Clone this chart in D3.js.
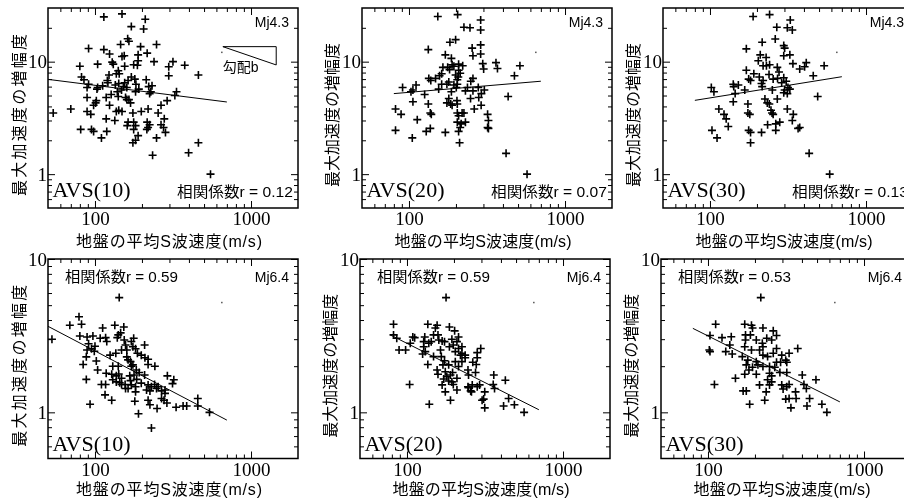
<!DOCTYPE html>
<html>
<head>
<meta charset="utf-8">
<script src="https://cdn.jsdelivr.net/npm/d3@7"></script>
<style>
  body { margin: 0; background: #fff; }
  svg { display: block; will-change: transform; }
  text { fill: #000; }
</style>
</head>
<body>
<svg id="chart" width="904" height="499"></svg>
<script>
// ---- axes ----
const xDomain = [50, 2000];
const xMajorTicks = [100, 1000];
const xMinorTicks = [60, 70, 80, 90, 200, 300, 400, 500, 600, 700, 800, 900];
const yDomainMj43 = [0.5, 30];
const yDomainMj64 = [0.5, 10];
const yMajorTicks = [1, 10];
const yMinorTicksMj43 = [0.6, 0.7, 0.8, 0.9, 2, 3, 4, 5, 6, 7, 8, 9, 20];
const yMinorTicksMj64 = [0.6, 0.7, 0.8, 0.9, 2, 3, 4, 5, 6, 7, 8, 9];

// ---- labels ----
const avsLabels = ["AVS(10)", "AVS(20)", "AVS(30)"];
const quakeLabels = ["Mj4.3", "Mj6.4"];
const corrMj43 = ["0.12", "0.07", "0.13"];
const corrMj64 = ["0.59", "0.59", "0.53"];
const corrPrefix = "相関係数r = ";
const xTitle = "地盤の平均S波速度(m/s)";
const yTitle = "最大加速度の増幅度";
const slopeLabel = "勾配b";

// ---- observations: [average S-wave velocity (m/s), PGA amplification] ----
const mj43Avs10 = [[114,25],[149,26.6],[210,23.8],[171,20.5],[205,19.5],[162,16],[165,15.2],[146,14.2],[196,13.6],[248,14.2],[91,13.1],[114,12.8],[124,11.7],[149,11.1],[154,11.3],[189,11.5],[216,11.9],[129,9.9],[131,9.5],[104,9.5],[80,9.1],[155,9.1],[177,9.4],[187,9.3],[189,10.2],[239,10],[297,9.0],[316,10],[376,9.3],[460,7.6],[297,7.5],[141,8.3],[143,7.8],[137,7.8],[123,7.6],[120,6.8],[82,7.3],[85,6.9],[91,6.3],[89,5.9],[103,5.7],[104,5.9],[112,6.1],[121,6.5],[135,6.2],[142,6.4],[155,6.5],[163,6.8],[171,7.3],[180,7.0],[183,6.3],[213,6.9],[221,6.0],[232,6.1],[228,5.4],[224,5.2],[191,5.7],[182,5.4],[139,5.4],[148,5.6],[152,6.0],[160,5.9],[127,5.1],[141,4.9],[157,4.8],[160,4.6],[165,4.6],[169,4.3],[118,4.8],[102,4.5],[101,4.3],[89,4.8],[333,5.4],[325,5.0],[290,4.5],[265,4.1],[54,3.5],[70,3.8],[89,3.6],[94,3.4],[98,4.1],[124,4.1],[142,3.7],[137,3.6],[149,3.6],[175,3.5],[198,3.6],[219,3.8],[254,3.5],[278,3.1],[118,3.1],[134,3.0],[163,2.9],[177,2.9],[182,2.7],[161,2.7],[216,2.9],[224,2.75],[265,2.75],[275,2.6],[283,2.35],[81,2.5],[95,2.5],[98,2.4],[119,2.4],[110,2.1],[177,2.5],[189,2.2],[219,2.6],[215,2.5],[248,2.1],[175,1.9],[182,2.0],[234,1.47],[398,1.55],[460,1.9],[550,1.0]];
const mj43Avs20 = [[153,25.2],[205,26.2],[288,23.5],[225,20.2],[246,20.0],[288,19.1],[183,14.9],[199,15.7],[133,12.8],[171,11.5],[254,13.2],[288,14.1],[257,11.3],[288,11.7],[187,10.7],[189,9.4],[194,9.1],[165,8.9],[177,8.9],[182,8.5],[208,8.4],[213,7.9],[221,9.2],[208,9.5],[297,9.6],[301,8.6],[361,9.8],[369,8.7],[514,9.2],[474,7.5],[138,6.8],[134,7.1],[148,7.1],[157,7.5],[162,7.8],[175,6.3],[180,6.6],[194,6.2],[204,6.9],[207,7.3],[204,6.3],[257,7.1],[249,6.7],[237,5.9],[230,5.5],[257,5.5],[278,5.9],[304,5.6],[291,5.2],[280,4.8],[248,4.7],[162,6.3],[155,5.7],[187,5.4],[201,5.9],[91,5.9],[103,5.4],[111,6.2],[106,5.6],[126,5.1],[180,4.7],[175,4.3],[185,4.2],[189,4.1],[203,4.5],[204,4.2],[133,4.2],[137,3.5],[139,3.4],[106,4.4],[82,3.8],[89,3.4],[113,3.05],[129,2.4],[137,2.55],[171,2.35],[82,2.45],[105,2.1],[204,3.5],[204,2.9],[208,3.3],[219,3.5],[225,3.5],[213,2.6],[216,2.8],[208,2.4],[230,2.9],[211,1.9],[262,3.8],[290,4.1],[319,3.4],[323,3.0],[319,2.6],[323,2.55],[432,4.9],[419,1.53],[571,1.0],[199,7.6]];
const mj43Avs30 = [[189,25.2],[241,26.2],[327,23.5],[268,20.2],[313,20.0],[337,19.1],[216,14.9],[262,15.9],[171,13.0],[297,13.9],[301,13.2],[210,11.5],[325,11.5],[297,11.3],[229,10.9],[204,10.2],[241,9.4],[230,9.2],[219,9.2],[340,9.6],[414,9.8],[404,9.0],[376,8.6],[539,9.2],[459,7.5],[171,8.4],[270,8.9],[277,8.1],[191,7.8],[207,7.3],[177,7.0],[182,6.8],[214,6.4],[219,6.8],[239,7.7],[254,7.0],[271,7.1],[297,7.2],[288,6.5],[308,6.7],[316,5.9],[301,5.6],[325,5.7],[251,5.6],[297,5.3],[313,5.2],[141,6.3],[142,6.0],[152,6.2],[145,5.2],[167,5.6],[102,5.9],[106,5.4],[216,6.0],[225,4.65],[233,4.3],[240,4.2],[246,3.7],[250,3.5],[254,3.4],[270,4.65],[280,2.9],[264,2.8],[264,2.45],[234,2.75],[214,2.35],[313,3.8],[342,3.4],[337,3.0],[367,2.55],[376,2.6],[141,4.4],[175,4.2],[175,3.5],[180,3.4],[177,2.45],[182,2.35],[182,1.9],[114,3.8],[123,3.4],[127,3.1],[131,2.65],[103,2.45],[111,2.1],[490,4.9],[432,1.53],[585,1.0]];
const mj64Avs10 = [[143,5.6],[79,4.2],[69,3.7],[82,3.75],[112,3.55],[134,3.7],[153,3.6],[146,3.3],[80,3.15],[89,3.1],[97,3.15],[108,3.04],[117,3.07],[119,2.9],[141,3.2],[139,3.07],[53,3.0],[177,3.04],[171,2.9],[154,2.96],[157,2.75],[160,2.55],[91,2.8],[100,2.7],[95,2.6],[89,2.55],[99,2.5],[125,2.36],[136,2.43],[148,2.55],[175,2.68],[182,2.6],[187,2.43],[208,2.75],[198,2.36],[209,2.27],[219,2.22],[219,2.05],[160,2.3],[163,2.2],[169,2.14],[88,2.3],[84,2.05],[102,2.16],[130,2.0],[141,2.0],[171,2.0],[175,2.04],[184,1.89],[192,1.82],[178,1.75],[242,2.0],[104,1.89],[118,1.8],[128,1.77],[137,1.73],[142,1.78],[148,1.67],[167,1.73],[169,1.61],[185,1.64],[208,1.75],[88,1.64],[110,1.52],[117,1.52],[130,1.63],[137,1.58],[144,1.56],[148,1.52],[156,1.52],[163,1.43],[171,1.51],[182,1.47],[198,1.55],[219,1.51],[230,1.47],[241,1.52],[254,1.47],[291,1.73],[320,1.63],[314,1.54],[214,1.4],[225,1.38],[248,1.43],[267,1.38],[281,1.4],[281,1.33],[157,1.43],[182,1.36],[116,1.3],[128,1.2],[180,1.18],[219,1.2],[225,1.12],[250,1.06],[267,1.23],[277,1.2],[289,1.15],[331,1.08],[367,1.1],[387,1.1],[456,1.23],[456,1.1],[542,1.0],[93,1.13],[190,0.98],[230,0.79]];
const mj64Avs20 = [[178,5.6],[82,3.75],[136,3.75],[156,3.7],[152,3.55],[187,3.6],[202,3.4],[82,3.2],[86,3.04],[109,3.1],[112,3.07],[130,3.1],[158,3.2],[168,2.92],[174,2.89],[214,3.1],[194,3.0],[209,2.89],[105,2.82],[128,2.89],[143,2.89],[89,2.55],[98,2.55],[128,2.68],[131,2.49],[126,2.4],[164,2.55],[187,2.68],[198,2.75],[214,2.61],[225,2.68],[204,2.49],[225,2.43],[236,2.36],[297,2.61],[282,2.45],[282,2.27],[278,2.05],[264,2.12],[136,2.05],[148,2.31],[166,2.31],[174,2.17],[185,2.04],[204,2.14],[220,2.36],[156,1.89],[158,1.77],[176,1.84],[196,1.82],[214,1.99],[246,1.89],[248,1.75],[275,1.82],[172,1.65],[185,1.6],[194,1.58],[209,1.67],[198,1.52],[168,1.51],[176,1.36],[190,1.2],[209,1.4],[246,1.47],[256,1.38],[262,1.51],[282,1.47],[292,1.51],[315,1.36],[310,1.22],[303,1.2],[315,1.07],[360,1.75],[357,1.52],[364,1.43],[427,1.62],[448,1.23],[416,1.1],[488,1.12],[563,1.0],[104,1.52],[139,1.13],[259,1.36],[248,1.45],[138,2.82],[170,2.04],[180,1.71],[190,1.75],[225,2.14],[236,2.27],[148,3.2],[160,2.96]];
const mj64Avs30 = [[218,5.6],[112,3.75],[172,3.75],[190,3.7],[193,3.55],[225,3.55],[262,3.4],[275,3.17],[103,3.17],[123,3.07],[141,3.11],[174,3.2],[187,3.2],[174,2.96],[204,2.96],[223,2.82],[238,3.04],[256,2.96],[138,2.75],[172,2.68],[190,2.55],[214,2.55],[225,2.68],[275,2.61],[262,2.43],[102,2.55],[103,2.49],[130,2.49],[143,2.4],[166,2.31],[180,2.19],[204,2.14],[225,2.36],[241,2.31],[297,2.36],[315,2.19],[320,2.12],[331,2.43],[376,2.61],[292,2.12],[176,2.04],[193,1.97],[209,2.04],[225,1.99],[248,1.99],[268,1.97],[183,1.89],[172,1.77],[204,1.77],[248,1.8],[256,1.73],[289,1.82],[320,1.82],[150,1.67],[241,1.63],[256,1.58],[248,1.51],[214,1.51],[297,1.51],[303,1.42],[320,1.47],[331,1.52],[402,1.75],[492,1.63],[412,1.52],[427,1.43],[364,1.36],[168,1.38],[176,1.38],[110,1.52],[231,1.2],[185,1.13],[315,1.22],[331,1.23],[367,1.23],[340,1.07],[448,1.23],[431,1.1],[537,1.13],[578,1.0],[236,1.36],[275,2.12]];

// ---- regression lines (end points) ----
const fitMj43Avs10 = [[50, 6.96], [700, 4.38]];
const fitMj43Avs20 = [[80, 5.2], [700, 6.7]];
const fitMj43Avs30 = [[80, 4.53], [700, 7.35]];
const fitMj64Avs10 = [[50, 3.64], [700, 0.89]];
const fitMj64Avs20 = [[78, 3.2], [700, 1.04]];
const fitMj64Avs30 = [[80, 3.53], [700, 1.17]];

// slope key drawn in the first panel
const slopeKey = [[660, 13.6], [1450, 13.6], [1450, 9.35]];
// tiny mark printed in the upper right of each panel
const smudgeMj43 = [650, 12.1];
const smudgeMj64 = [650, 5.2];

// ---- layout ----
const rows = [
  { top: 8,   bottom: 208,   yDomain: yDomainMj43, minor: yMinorTicksMj43, lefts: [48, 362, 663],
    sets: [mj43Avs10, mj43Avs20, mj43Avs30], fits: [fitMj43Avs10, fitMj43Avs20, fitMj43Avs30],
    corr: corrMj43, quake: quakeLabels[0], smudge: smudgeMj43, corrAtBottom: true },
  { top: 259, bottom: 458.5, yDomain: yDomainMj64, minor: yMinorTicksMj64, lefts: [48, 360, 661],
    sets: [mj64Avs10, mj64Avs20, mj64Avs30], fits: [fitMj64Avs10, fitMj64Avs20, fitMj64Avs30],
    corr: corrMj64, quake: quakeLabels[1], smudge: smudgeMj64, corrAtBottom: false }
];
const panelWidth = 250;
const sansJP = "'Liberation Sans', Arial, 'Noto Sans CJK JP', sans-serif";
const serif = "'Liberation Serif', 'Times New Roman', serif";

const svg = d3.select("#chart");

rows.forEach((row, ri) => {
  row.lefts.forEach((left, ci) => {
    const right = left + panelWidth;
    const x = d3.scaleLog().domain(xDomain).range([left, right]);
    const y = d3.scaleLog().domain(row.yDomain).range([row.bottom, row.top]);
    const g = svg.append("g");

    const styleAxis = sel => {
      sel.select(".domain").remove();
      sel.selectAll(".tick line").attr("stroke", "#000").attr("stroke-width", 1);
    };

    // ticks on all four sides, pointing inward
    g.append("g").attr("transform", `translate(0,${row.bottom})`)
      .call(d3.axisBottom(x).tickValues(xMajorTicks).tickSize(-7).tickPadding(4).tickFormat(d3.format("d")))
      .call(styleAxis)
      .call(s => s.selectAll("text").attr("font-family", serif).attr("font-size", 19).attr("fill", "#000"));
    g.append("g").attr("transform", `translate(0,${row.bottom})`)
      .call(d3.axisBottom(x).tickValues(xMinorTicks).tickSize(-4).tickFormat(""))
      .call(styleAxis);
    g.append("g").attr("transform", `translate(0,${row.top})`)
      .call(d3.axisTop(x).tickValues(xMajorTicks).tickSize(-7).tickFormat(""))
      .call(styleAxis);
    g.append("g").attr("transform", `translate(0,${row.top})`)
      .call(d3.axisTop(x).tickValues(xMinorTicks).tickSize(-4).tickFormat(""))
      .call(styleAxis);
    g.append("g").attr("transform", `translate(${left},0)`)
      .call(d3.axisLeft(y).tickValues(yMajorTicks).tickSize(-7).tickPadding(1).tickFormat(d3.format("d")))
      .call(styleAxis)
      .call(s => s.selectAll("text").attr("font-family", serif).attr("font-size", 19).attr("fill", "#000"));
    g.append("g").attr("transform", `translate(${left},0)`)
      .call(d3.axisLeft(y).tickValues(row.minor).tickSize(-4).tickFormat(""))
      .call(styleAxis);
    g.append("g").attr("transform", `translate(${right},0)`)
      .call(d3.axisRight(y).tickValues(yMajorTicks).tickSize(-7).tickFormat(""))
      .call(styleAxis);
    g.append("g").attr("transform", `translate(${right},0)`)
      .call(d3.axisRight(y).tickValues(row.minor).tickSize(-4).tickFormat(""))
      .call(styleAxis);

    // frame
    g.append("rect")
      .attr("x", left).attr("y", row.top)
      .attr("width", panelWidth).attr("height", row.bottom - row.top)
      .attr("fill", "none").attr("stroke", "#000").attr("stroke-width", 1.5);

    // observations as plus marks
    g.append("g").selectAll("path")
      .data(row.sets[ci])
      .join("path")
      .attr("transform", d => `translate(${x(d[0])},${y(d[1])})`)
      .attr("d", "M-4,0H4M0,-4V4")
      .attr("stroke", "#000").attr("stroke-width", 1.6).attr("fill", "none");

    // regression line
    g.append("path")
      .datum(row.fits[ci])
      .attr("d", d3.line().x(d => x(d[0])).y(d => y(d[1])))
      .attr("fill", "none").attr("stroke", "#000").attr("stroke-width", 1);

    // small printed mark
    g.append("rect")
      .attr("x", x(row.smudge[0]) - 0.75).attr("y", y(row.smudge[1]) - 0.75)
      .attr("width", 1.5).attr("height", 1.5).attr("fill", "#555");

    // slope key (first panel only)
    if (ri === 0 && ci === 0) {
      g.append("path")
        .datum(slopeKey)
        .attr("d", d3.line().x(d => x(d[0])).y(d => y(d[1])).curve(d3.curveLinearClosed))
        .attr("fill", "#fff").attr("stroke", "#000").attr("stroke-width", 1);
      g.append("text")
        .attr("x", x(slopeKey[0][0])).attr("y", y(slopeKey[2][1]) + 7)
        .attr("font-family", sansJP).attr("font-size", 14)
        .text(slopeLabel);
    }

    // AVS label
    g.append("text")
      .attr("x", left + 4.5).attr("y", row.bottom - (ri === 0 ? 11 : 7.5))
      .attr("font-family", serif).attr("font-size", 22)
      .attr("textLength", 78).attr("lengthAdjust", "spacingAndGlyphs")
      .text(avsLabels[ci]);

    // magnitude label
    g.append("text")
      .attr("x", right - 9).attr("y", row.top + (ri === 0 ? 19 : 23))
      .attr("text-anchor", "end")
      .attr("font-family", sansJP).attr("font-size", 14)
      .text(row.quake);

    // correlation coefficient
    const corr = g.append("text")
      .attr("font-family", sansJP).attr("font-size", 14.5)
      .attr("lengthAdjust", "spacingAndGlyphs")
      .text(corrPrefix + row.corr[ci]);
    if (row.corrAtBottom) {
      corr.attr("x", right - 121).attr("y", row.bottom - 11).attr("textLength", 116);
    } else {
      corr.attr("x", left + 17).attr("y", row.top + 23).attr("textLength", 113);
    }

    // axis titles
    g.append("text")
      .attr("x", left + 121).attr("y", row.bottom + (ri === 0 ? 39 : 36))
      .attr("text-anchor", "middle")
      .attr("font-family", sansJP).attr("font-size", 16)
      .attr("textLength", ci === 0 ? 186 : 177).attr("lengthAdjust", "spacing")
      .text(xTitle);
    const ty = (row.top + row.bottom) / 2 + 7;
    const tx = ci === 0 ? left - 28.5 : left - 29.5;
    g.append("text")
      .attr("transform", `translate(${tx},${ty}) rotate(-90)`)
      .attr("text-anchor", "middle").attr("dominant-baseline", "central")
      .attr("font-family", sansJP).attr("font-size", 16)
      .attr("textLength", ci === 0 ? 162 : 144).attr("lengthAdjust", "spacing")
      .text(yTitle);
  });
});
</script>
</body>
</html>
